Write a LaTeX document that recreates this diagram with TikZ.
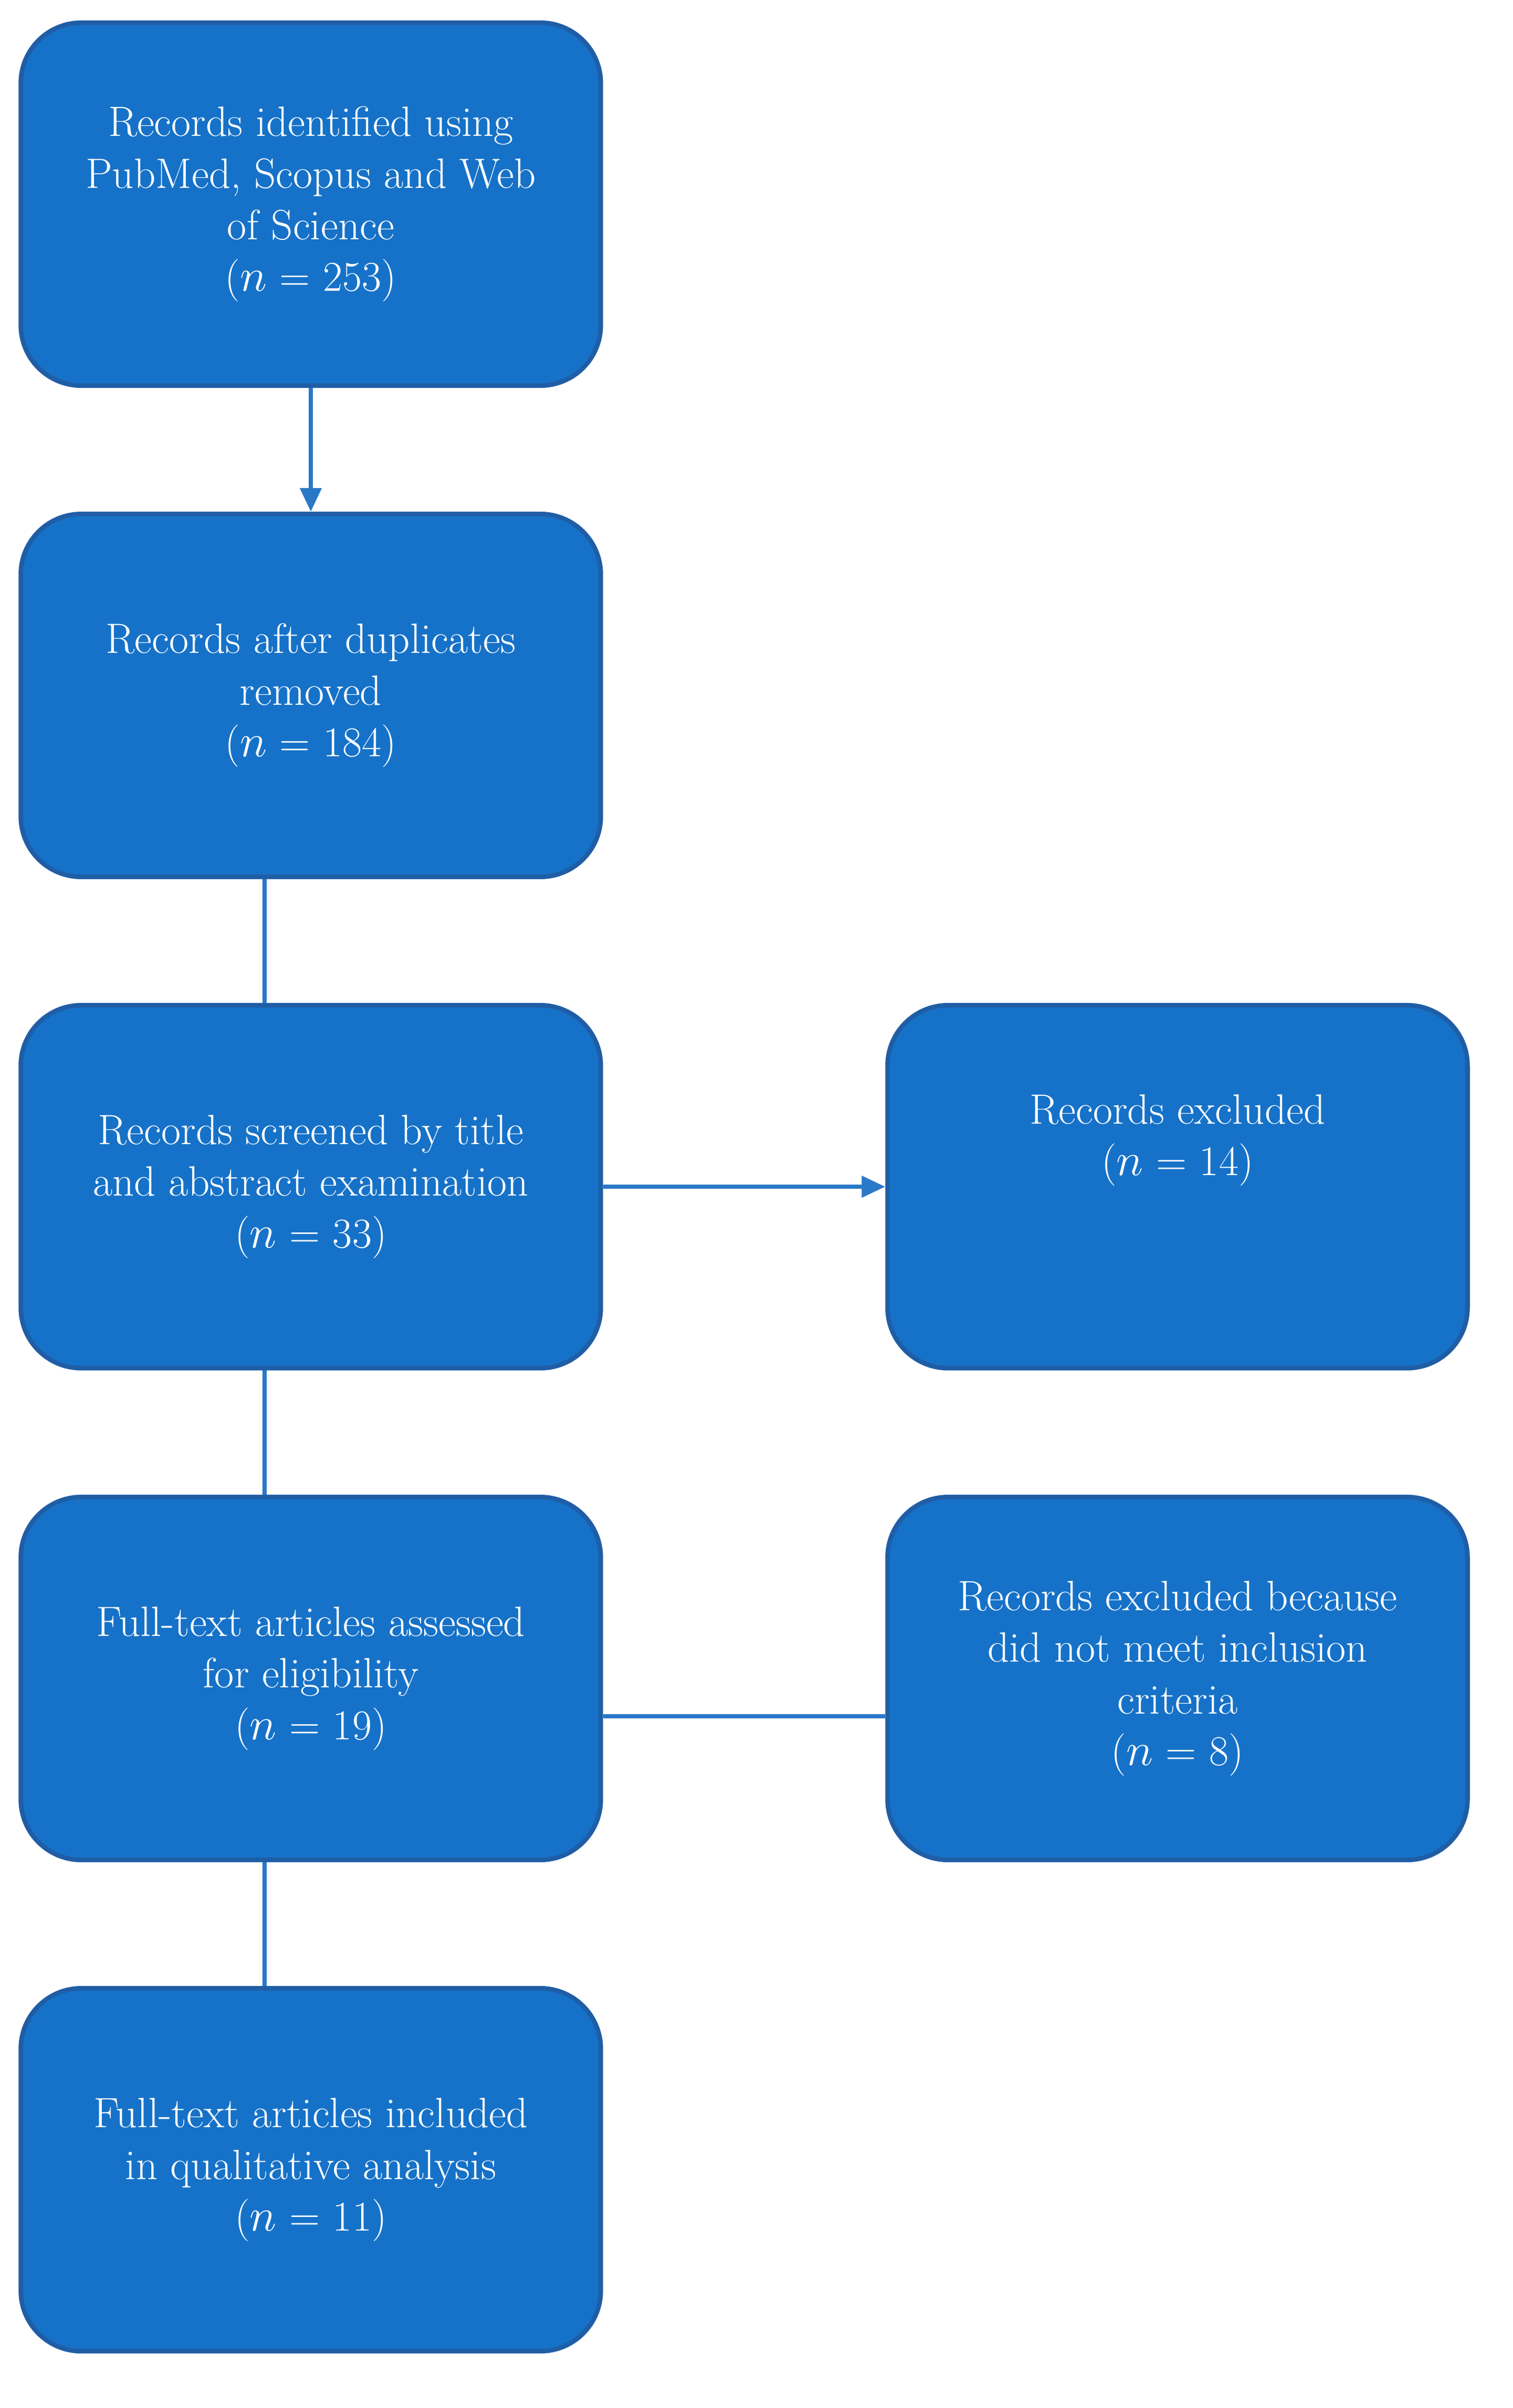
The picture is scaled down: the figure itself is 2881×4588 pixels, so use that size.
\documentclass[tikz,border=0pt]{standalone}
\usetikzlibrary{arrows.meta}
\definecolor{boxfill}{HTML}{1672C8}
\definecolor{boxline}{HTML}{1F5EA6}
\definecolor{conn}{HTML}{2A78C8}
\begin{document}
\begin{tikzpicture}[x=0.01cm,y=-0.01cm,
  box/.style={draw=boxline,line width=2.5pt,fill=boxfill,rounded corners=1.15cm,
    minimum width=11.04cm,minimum height=6.91cm,text=white,align=center,
    font=\fontsize{23}{28}\selectfont,inner sep=0pt},
  ln/.style={draw=conn,line width=2.2pt},
  arr/.style={ln,-{Triangle[length=0.45cm,width=0.4cm]}}]
\useasboundingbox (0,0) rectangle (2881,4588);
\fill[white] (0,0) rectangle (2881,4588);
\node[box] (b1) at (592,389) {Records identified using\\PubMed, Scopus and Web\\of Science\\($n$ = 253)};
\node[box] (b2) at (592,1325) {Records after duplicates\\removed\\($n$ = 184)};
\node[box] (b3) at (592,2261) {Records screened by title\\and abstract examination\\($n$ = 33)};
\node[box] (b4) at (592,3198) {Full-text articles assessed\\for eligibility\\($n$ = 19)};
\node[box] (b5) at (592,4134) {Full-text articles included\\in qualitative analysis\\($n$ = 11)};
\node[box] (r1) at (2243,2261) {Records excluded\\($n$ = 14)\\[28pt]};
\node[box] (r2) at (2243,3198) {Records excluded because\\did not meet inclusion\\criteria\\($n$ = 8)};
\draw[arr] (b1.south) -- (b2.north);
\draw[ln] (b2.south -| 504,0) -- (b3.north -| 504,0);
\draw[ln] (b3.south -| 504,0) -- (b4.north -| 504,0);
\draw[ln] (b4.south -| 504,0) -- (b5.north -| 504,0);
\draw[arr] (b3.east) -- (r1.west);
\draw[ln] (b4.east |- 0,3270) -- (r2.west |- 0,3270);
\end{tikzpicture}
\end{document}
